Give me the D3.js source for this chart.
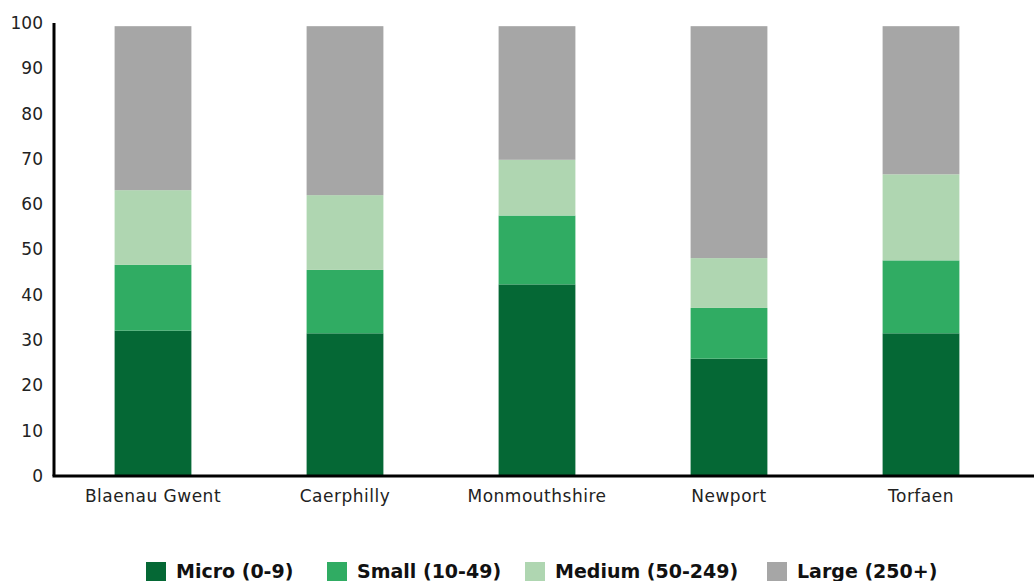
<!DOCTYPE html>
<html>
<head>
<meta charset="utf-8">
<script src="https://cdn.jsdelivr.net/npm/d3@7"></script>
<style>
  html, body { margin: 0; padding: 0; background: #fff; }
  svg { display: block; font-family: "Noto Sans", sans-serif; }
</style>
</head>
<body>
<svg id="chart" width="1034" height="581"></svg>
<script>
const categories = ["Blaenau Gwent", "Caerphilly", "Monmouthshire", "Newport", "Torfaen"];
const seriesNames = ["Micro (0-9)", "Small (10-49)", "Medium (50-249)", "Large (250+)"];
const micro  = [32.1, 31.5, 42.3, 25.9, 31.5];
const small  = [14.5, 14.0, 15.2, 11.2, 16.1];
const medium = [16.5, 16.5, 12.3, 11.0, 19.0];
const large  = [36.2, 37.3, 29.5, 51.2, 32.7];
const yTicks = [0, 10, 20, 30, 40, 50, 60, 70, 80, 90, 100];
const colors = ["#056835", "#30ac63", "#afd6b1", "#a6a6a6"];

const seriesValues = [micro, small, medium, large];
const keys = ["micro", "small", "medium", "large"];
const table = categories.map((c, i) => {
  const row = { category: c };
  keys.forEach((k, j) => row[k] = seriesValues[j][i]);
  return row;
});

const svg = d3.select("#chart");
const x0 = 57, x1 = 1017, yTop = 23, yBottom = 476, axisX = 54;

const x = d3.scaleBand().domain(categories).range([x0, x1]).paddingInner(0.6).paddingOuter(0.3);
const y = d3.scaleLinear().domain([0, 100]).range([yBottom, yTop]);
const color = d3.scaleOrdinal().domain(keys).range(colors);

const stack = d3.stack().keys(keys)(table);

svg.append("g").selectAll("g").data(stack).join("g")
  .attr("fill", d => color(d.key))
  .selectAll("rect").data(d => d).join("rect")
  .attr("x", d => x(d.data.category))
  .attr("width", x.bandwidth())
  .attr("y", d => y(d[1]))
  .attr("height", d => y(d[0]) - y(d[1]));

// y axis
const yAxis = svg.append("g").attr("transform", `translate(${axisX},0)`)
  .call(d3.axisLeft(y).tickValues(yTicks).tickSize(0).tickPadding(11).tickFormat(d3.format("d")));
yAxis.select(".domain").attr("stroke", "#000").attr("stroke-width", 3).attr("d", `M0,${yTop}V${yBottom}`);
yAxis.selectAll("text").attr("font-size", 17).attr("fill", "#222").attr("font-family", "DejaVu Sans");

// x axis
const xAxis = svg.append("g").attr("transform", `translate(0,${yBottom})`)
  .call(d3.axisBottom(x).tickSize(0).tickPadding(14));
xAxis.select(".domain").attr("stroke", "#000").attr("stroke-width", 3).attr("d", `M${axisX - 1.5},0H1034`);
xAxis.selectAll("text").attr("font-size", 17).attr("fill", "#222").attr("font-family", "DejaVu Sans")
  .attr("letter-spacing", 0.5);

// legend
const legendX = [146, 327, 525, 767];
const lg = svg.append("g").selectAll("g").data(keys).join("g")
  .attr("transform", (d, i) => `translate(${legendX[i]},562)`);
lg.append("rect").attr("width", 20).attr("height", 20).attr("fill", d => color(d));
lg.append("text").attr("x", 30).attr("y", 16)
  .attr("font-size", 19).attr("font-weight", "bold").attr("fill", "#111")
  .attr("font-family", "DejaVu Sans")
  .text((d, i) => seriesNames[i]);
</script>
</body>
</html>
